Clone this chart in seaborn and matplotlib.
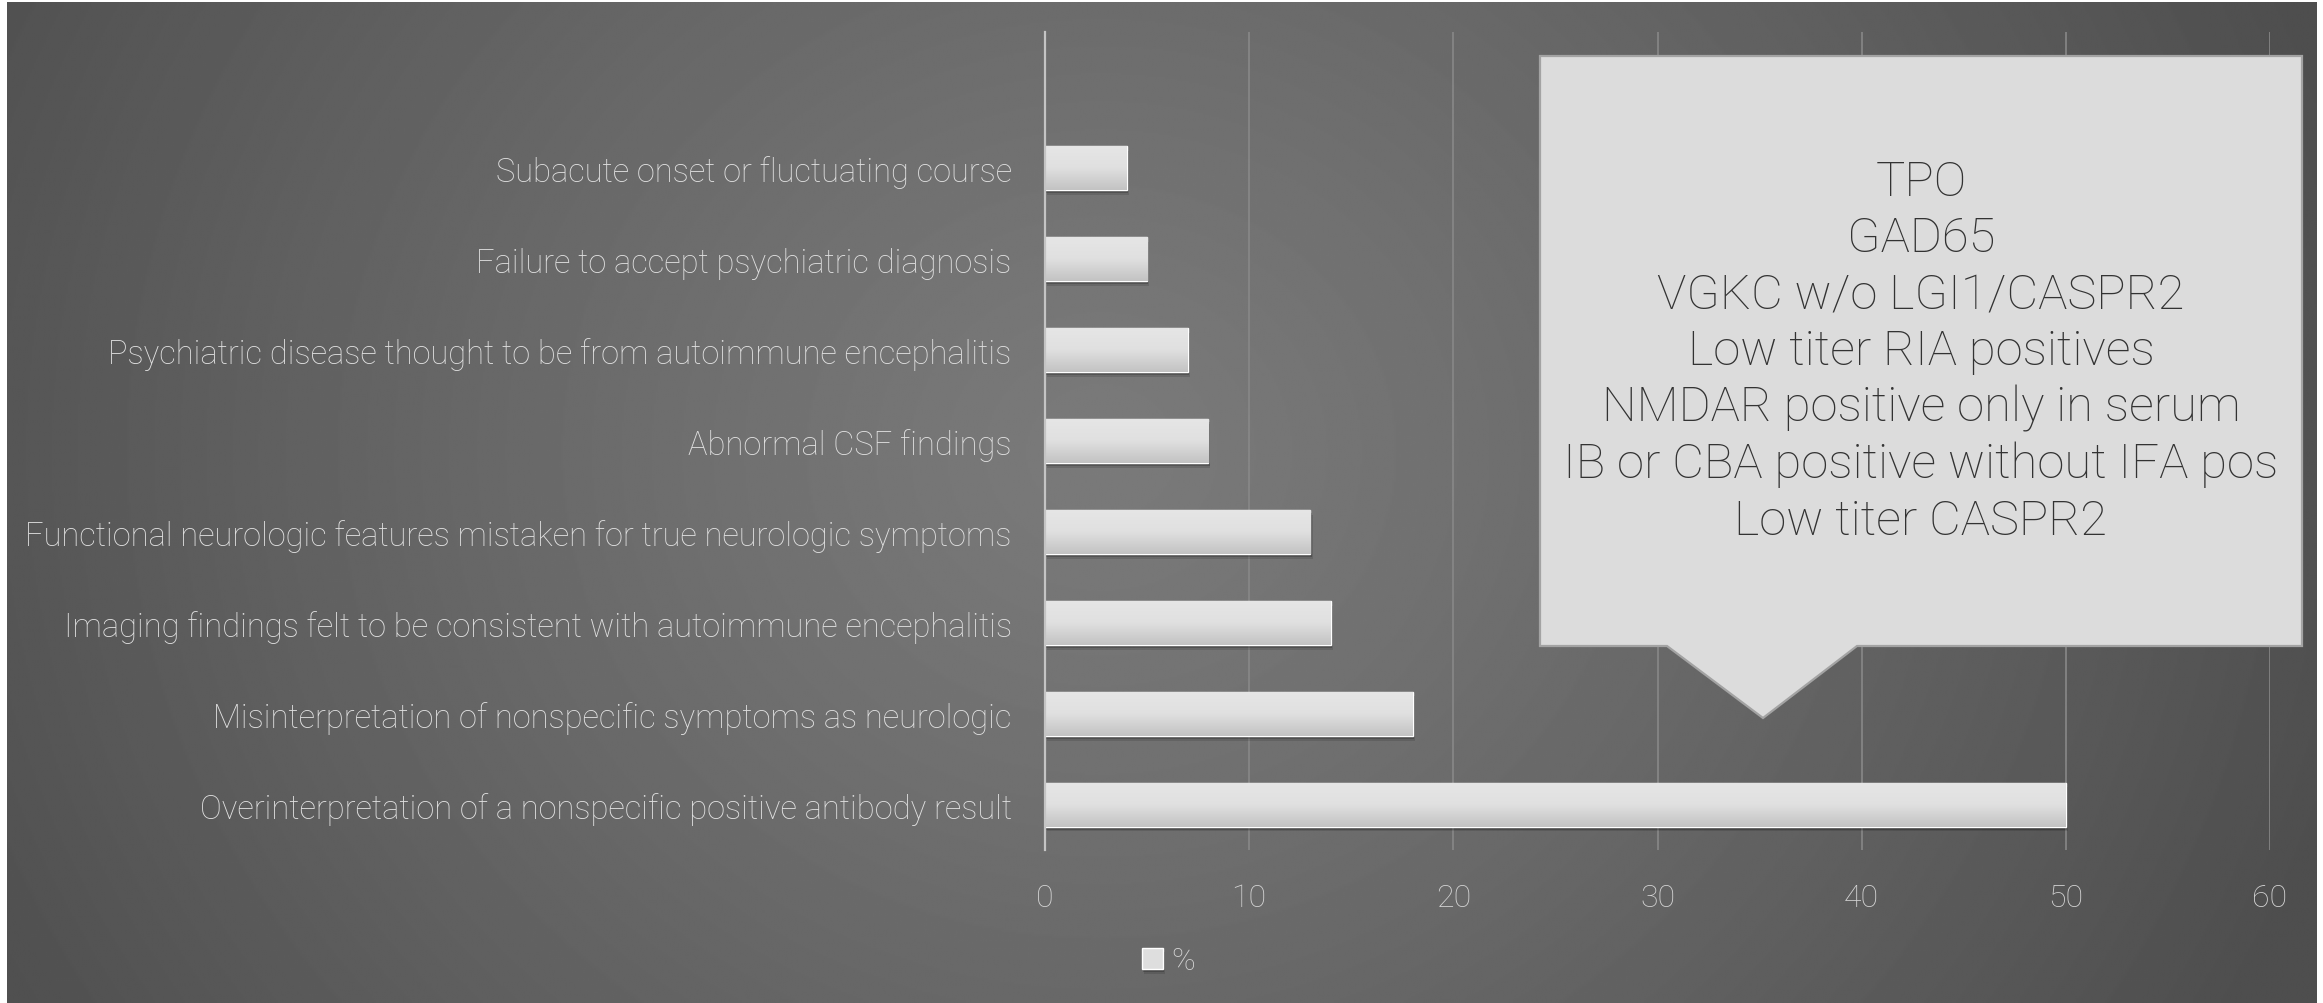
import numpy as np
import pandas as pd
import matplotlib
matplotlib.use('Agg')
import matplotlib.pyplot as plt
import matplotlib.patheffects as pe
from matplotlib.patches import Polygon
from matplotlib.colors import LinearSegmentedColormap
import seaborn as sns

categories = [
    'Subacute onset or fluctuating course',
    'Failure to accept psychiatric diagnosis',
    'Psychiatric disease thought to be from autoimmune encephalitis',
    'Abnormal CSF findings',
    'Functional neurologic features mistaken for true neurologic symptoms',
    'Imaging findings felt to be consistent with autoimmune encephalitis',
    'Misinterpretation of nonspecific symptoms as neurologic',
    'Overinterpretation of a nonspecific positive antibody result',
]
percent = [4, 5, 7, 8, 13, 14, 18, 50]
x_ticks = [0, 10, 20, 30, 40, 50, 60]
series_name = '%'
callout_lines = [
    'TPO',
    'GAD65',
    'VGKC w/o LGI1/CASPR2',
    'Low titer RIA positives',
    'NMDAR positive only in serum',
    'IB or CBA positive without IFA pos',
    'Low titer CASPR2',
]

W, H, DPI = 2323, 1004, 100

sns.set_theme(style='white')
plt.rcParams['font.family'] = ['Roboto', 'DejaVu Sans']

df = pd.DataFrame({'cause': categories, 'pct': percent})

fig = plt.figure(figsize=(W / DPI, H / DPI), dpi=DPI, facecolor='white')

# grey radial background (slide style)
bg = fig.add_axes([0, 0, 1, 1], zorder=-10)
yy, xx = np.mgrid[0:H:2, 0:W:2]
d = np.hypot(xx - 1100, (yy - 450) / 0.9)
v = np.clip(122 - 38 * (d / 1150) ** 1.2, 78, 125) / 255
bg.imshow(v, cmap='gray', vmin=0, vmax=1, extent=(7, 2317, H, 3),
          aspect='auto', interpolation='bilinear')
bg.set_xlim(0, W)
bg.set_ylim(H, 0)
bg.axis('off')

# main chart
ax = fig.add_axes([1045 / W, 1 - 851 / H, (2270 - 1045) / W, (851 - 33) / H])
ax.set_facecolor('none')
sns.barplot(data=df, x='pct', y='cause', orient='h', color='#dedede',
            saturation=1, width=0.485, label=series_name, ax=ax)

bar_cmap = LinearSegmentedColormap.from_list('bar', ['#e6e6e6', '#e0e0e0', '#c3c3c3'])
grad = np.linspace(0, 1, 64).reshape(-1, 1)
for p in ax.patches:
    x0, y0 = p.get_x(), p.get_y()
    w, h = p.get_width(), p.get_height()
    p.set_path_effects([
        pe.SimplePatchShadow(offset=(1.5, -3.5), shadow_rgbFace='black', alpha=0.12),
        pe.SimplePatchShadow(offset=(1, -2.2), shadow_rgbFace='black', alpha=0.2),
        pe.Normal(),
    ])
    im = ax.imshow(grad, cmap=bar_cmap, extent=(x0, x0 + w, y0 + h, y0),
                   aspect='auto', zorder=p.get_zorder() + 0.1)
    im.set_clip_path(p)

ax.set_xlim(0, 60)
ax.set_ylim(7.5, -1.5)
ax.set_xticks(x_ticks)
ax.set_axisbelow(True)
ax.xaxis.grid(True, color='#888888', linewidth=1.2)
ax.yaxis.grid(False)
for s in ['top', 'right', 'bottom']:
    ax.spines[s].set_visible(False)
ax.spines['left'].set_color('#c4c4c4')
ax.spines['left'].set_linewidth(1.6)
ax.tick_params(axis='x', length=0, labelsize=23, pad=24, labelcolor='#d4d4d4')
ax.tick_params(axis='y', length=0, labelsize=23.5, pad=24, labelcolor='#e0e0e0')
ax.set_xlabel('')
ax.set_ylabel('')
for lbl in ax.get_xticklabels() + ax.get_yticklabels():
    lbl.set_fontweight('light')

leg = ax.legend(loc='center left', bbox_to_anchor=(1142 / W, 1 - 962 / H),
                bbox_transform=fig.transFigure, frameon=False, fontsize=23,
                handlelength=0.66, handleheight=0.66, handletextpad=0.25,
                borderpad=0, borderaxespad=0)
for t in leg.get_texts():
    t.set_color('#d4d4d4')
    t.set_fontweight('light')

# callout box
pts = [(1540, 57), (2302, 57), (2302, 647), (1857, 647), (1763, 719),
       (1667, 647), (1540, 647)]
callout = Polygon([(x / W, 1 - y / H) for x, y in pts], closed=True,
                  transform=fig.transFigure, facecolor='#dcdcdc',
                  edgecolor='#a3a3a3', linewidth=1.6, zorder=5)
fig.add_artist(callout)
fig.text(1921 / W, 1 - 352 / H, '\n'.join(callout_lines), ha='center', va='center',
         multialignment='center', fontsize=35.3, color='#333333',
         fontweight='light', linespacing=1.27, zorder=6)

fig.savefig('out.png', dpi=DPI)
